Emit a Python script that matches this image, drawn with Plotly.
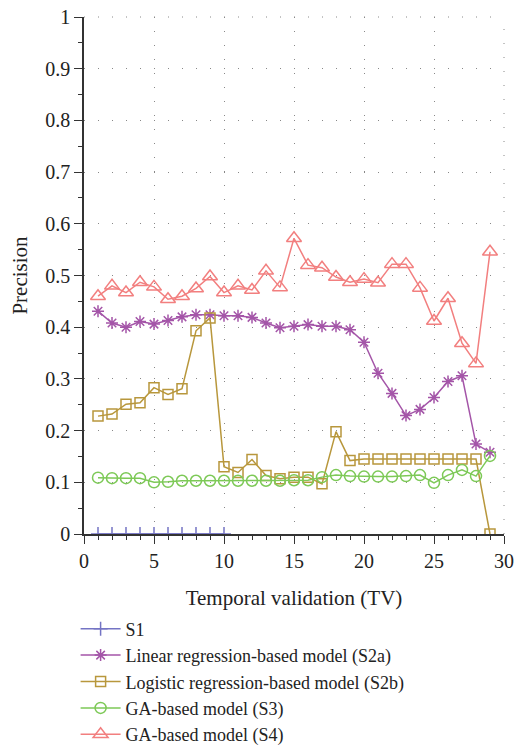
import plotly.graph_objects as go

tv = list(range(1, 30))
tv_s1 = list(range(1, 11))

s1 = [0.0] * 10
s2a = [0.431, 0.408, 0.400, 0.411, 0.406, 0.413, 0.420, 0.424, 0.424, 0.422,
       0.422, 0.419, 0.408, 0.399, 0.402, 0.405, 0.402, 0.402, 0.395, 0.371,
       0.311, 0.272, 0.229, 0.241, 0.264, 0.295, 0.306, 0.174, 0.158]
s2b = [0.228, 0.232, 0.251, 0.254, 0.283, 0.270, 0.281, 0.393, 0.418, 0.130,
       0.119, 0.144, 0.113, 0.107, 0.110, 0.110, 0.097, 0.198, 0.142, 0.145,
       0.145, 0.145, 0.145, 0.145, 0.145, 0.145, 0.145, 0.145, 0.0]
s3 = [0.109, 0.108, 0.108, 0.108, 0.100, 0.101, 0.103, 0.103, 0.103, 0.103,
      0.103, 0.103, 0.103, 0.103, 0.104, 0.104, 0.110, 0.114, 0.112, 0.111,
      0.111, 0.111, 0.112, 0.114, 0.099, 0.114, 0.124, 0.112, 0.151]
s4 = [0.460, 0.480, 0.467, 0.487, 0.478, 0.454, 0.460, 0.475, 0.498, 0.467,
      0.480, 0.472, 0.509, 0.477, 0.572, 0.520, 0.515, 0.497, 0.487, 0.493,
      0.486, 0.522, 0.522, 0.476, 0.412, 0.456, 0.369, 0.330, 0.546]

y_tick_vals = [0, 0.1, 0.2, 0.3, 0.4, 0.5, 0.6, 0.7, 0.8, 0.9, 1]
y_tick_text = ["0", "0.1", "0.2", "0.3", "0.4", "0.5", "0.6", "0.7", "0.8", "0.9", "1"]

names = ["S1", "Linear regression-based model (S2a)",
         "Logistic regression-based model (S2b)", "GA-based model (S3)",
         "GA-based model (S4)"]
colors = ["#7474C4", "#A455A8", "#B8973C", "#7DC957", "#F27F7F"]

FONT = "Liberation Serif"
TXT = "#222222"
GRID = "#888888"
GRIDDASH = "1px,13px"

fig = go.Figure()
fig.add_trace(go.Scatter(x=tv_s1, y=s1, name=names[0], mode="lines+markers",
                         line=dict(color=colors[0], width=1.5),
                         marker=dict(symbol="cross-thin", size=10,
                                     line=dict(color=colors[0], width=1.5))))
fig.add_trace(go.Scatter(x=tv, y=s2a, name=names[1], mode="lines+markers",
                         line=dict(color=colors[1], width=1.5),
                         marker=dict(symbol="asterisk-open", size=10,
                                     line=dict(color=colors[1], width=1.5))))
fig.add_trace(go.Scatter(x=tv, y=s2b, name=names[2], mode="lines+markers",
                         line=dict(color=colors[2], width=1.5),
                         marker=dict(symbol="square-open", size=10,
                                     line=dict(color=colors[2], width=1.5))))
fig.add_trace(go.Scatter(x=tv, y=s3, name=names[3], mode="lines+markers",
                         line=dict(color=colors[3], width=1.5),
                         marker=dict(symbol="circle-open", size=11,
                                     line=dict(color=colors[3], width=1.5))))
fig.add_trace(go.Scatter(x=tv, y=s4, name=names[4], mode="lines+markers",
                         line=dict(color=colors[4], width=1.5),
                         marker=dict(symbol="triangle-up-open", size=13,
                                     line=dict(color=colors[4], width=1.5))))

# dotted frame lines at the top and right edges (grid continuation)
fig.add_shape(type="line", xref="paper", yref="paper", x0=0, x1=1, y0=1, y1=1,
              line=dict(color=GRID, width=1, dash=GRIDDASH), layer="below")
fig.add_shape(type="line", xref="paper", yref="paper", x0=1, x1=1, y0=0, y1=1,
              line=dict(color=GRID, width=1, dash=GRIDDASH), layer="below")

fig.update_layout(
    width=518, height=750,
    margin=dict(l=84, r=14, t=17, b=216, autoexpand=False),
    paper_bgcolor="white", plot_bgcolor="white",
    font=dict(family=FONT, size=20, color=TXT),
    showlegend=True,
    legend=dict(x=-0.02, y=-0.148, xanchor="left", yanchor="top",
                font=dict(family=FONT, size=18, color=TXT),
                bgcolor="rgba(0,0,0,0)", itemwidth=40, tracegroupgap=0),
    xaxis=dict(range=[0, 30], dtick=5, tick0=0, automargin=False,
               ticklabeloverflow="allow",
               showline=True, linecolor="#333333", linewidth=1.5,
               ticks="outside", ticklen=8, tickcolor="#333333", tickwidth=1,
               showgrid=True, gridcolor=GRID, griddash=GRIDDASH, gridwidth=1,
               zeroline=False, tickfont=dict(family=FONT, size=20, color=TXT),
               minor=dict(dtick=1, ticks="outside", ticklen=4, tickcolor="#333333", showgrid=False),
               title=dict(text="Temporal validation (TV)", standoff=20,
                          font=dict(family=FONT, size=21, color=TXT))),
    yaxis=dict(range=[0, 1], automargin=False,
               ticklabeloverflow="allow",
               showline=True, linecolor="#333333", linewidth=1.5,
               ticks="outside", ticklen=8, tickcolor="#333333", tickwidth=1,
               showgrid=True, gridcolor=GRID, griddash=GRIDDASH, gridwidth=1,
               zeroline=False, tickfont=dict(family=FONT, size=20, color=TXT),
               minor=dict(dtick=0.05, ticks="outside", ticklen=4, tickcolor="#333333", showgrid=False),
               tickvals=y_tick_vals, ticktext=y_tick_text,
               title=dict(text="Precision", standoff=12,
                          font=dict(family=FONT, size=21, color=TXT))),
)

fig.write_html("out.html", config={"displayModeBar": False},
               post_script="document.body.style.margin='0';document.body.style.overflow='hidden';")
